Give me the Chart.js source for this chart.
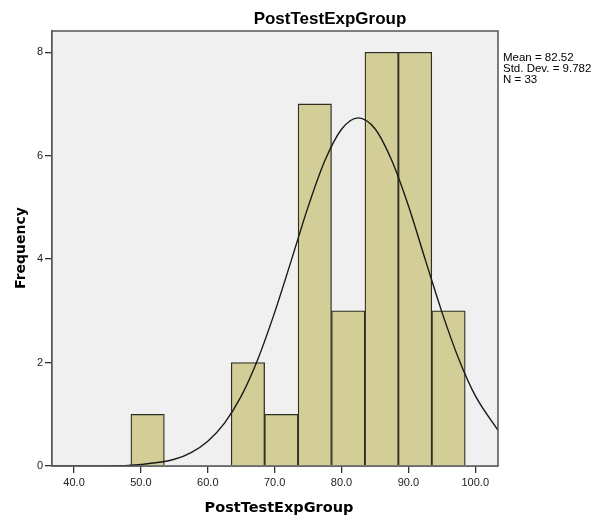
<!DOCTYPE html>
<html>
<head>
<meta charset="utf-8">
<script src="https://cdn.jsdelivr.net/npm/chart.js@4/dist/chart.umd.min.js"></script>
<style>
  html, body { margin: 0; padding: 0; background: #ffffff; }
  canvas { display: block; }
</style>
</head>
<body>
<canvas id="histChart" width="596" height="519"></canvas>
<script>
//============================== DATA ===========================
// bin centres (bin width 5) and counts
const binCenters = [51, 66, 71, 76, 81, 86, 91, 96];
const binCounts = [1, 2, 1, 7, 3, 8, 8, 3];

// normal curve, heights
const curveX = [36.7, 40, 45, 50, 55, 57.5, 60, 62.5, 65, 67.5, 70, 72.5, 75, 77.5, 80, 82.5, 85, 87.5, 90, 92.5, 95, 97.5, 100, 103.4];
const curveY = [0.00, 0.00, 0.00, 0.03, 0.13, 0.26, 0.48, 0.83, 1.35, 2.07, 2.97, 3.98, 5.01, 5.90, 6.51, 6.73, 6.52, 5.91, 5.03, 4.00, 2.98, 2.08, 1.36, 0.69];

const xTicks = [40, 50, 60, 70, 80, 90, 100];
const yTicks = [0, 2, 4, 6, 8];

const chartTitle = "PostTestExpGroup";
const xTitle = "PostTestExpGroup";
const yTitle = "Frequency";
const statLines = ["Mean = 82.52", "Std. Dev. = 9.782", "N = 33"];

//============================== CHART ===========================
const barPoints = binCenters.map((c, i) => ({ x: c, y: binCounts[i] }));
const curvePoints = curveX.map((v, i) => ({ x: v, y: curveY[i] }));

const spssLook = {
    id: "spssLook",
    beforeDatasetsDraw(chart) {
        const a = chart.chartArea;
        const ctx = chart.ctx;
        ctx.save();
        ctx.fillStyle = "#f0f0f0";
        ctx.fillRect(a.left, a.top, a.right - a.left, a.bottom - a.top);
        ctx.restore();
    },
    afterDraw(chart) {
        const a = chart.chartArea;
        const ctx = chart.ctx;
        ctx.save();
        ctx.strokeStyle = "#555555";
        ctx.lineWidth = 1.5;
        ctx.strokeRect(a.left, a.top, a.right - a.left, a.bottom - a.top);

        ctx.fillStyle = "#000000";
        ctx.textAlign = "center";
        ctx.textBaseline = "alphabetic";
        ctx.font = "bold 17px 'Liberation Sans', Arial, sans-serif";
        ctx.fillText(chartTitle, 330, 24);

        ctx.font = "bold 14.5px 'DejaVu Sans', sans-serif";
        ctx.fillText(xTitle, 279, 512);

        ctx.save();
        ctx.translate(25, 248);
        ctx.rotate(-Math.PI / 2);
        ctx.font = "bold 14px 'DejaVu Sans', sans-serif";
        ctx.fillText(yTitle, 0, 0);
        ctx.restore();

        ctx.textAlign = "left";
        ctx.font = "11.5px 'Liberation Sans', Arial, sans-serif";
        statLines.forEach((s, i) => ctx.fillText(s, 503, 61 + i * 10.8));
        ctx.restore();
    }
};

const config = {
    type: "bar",
    data: {
        datasets: [
        {
            type: "line",
            label: "Normal",
            data: curvePoints,
            borderColor: "#1a1a1a",
            borderWidth: 1.4,
            pointRadius: 0,
            fill: false,
            cubicInterpolationMode: "monotone",
            order: 0,
        },
        {
            type: "bar",
            label: "Frequency",
            data: barPoints,
            backgroundColor: "#d3ce97",
            borderColor: "#2e2e24",
            borderWidth: 1.3,
            barPercentage: 1.0,
            categoryPercentage: 1.0,
            order: 1,
        },
    ],
    },
    options: {
        responsive: false,
        maintainAspectRatio: false,
        animation: false,
        devicePixelRatio: 1,
        layout: { padding: { left: 0, top: 31, right: 98, bottom: 0 } },
        plugins: {
            legend: { display: false },
            title: { display: false },
            tooltip: { enabled: false },
        },
        scales: {
            x: {
                type: "linear",
                min: 36.7,
                max: 103.4,
                offset: false,
                afterFit(scale) { scale.height = 53; },
                afterBuildTicks(scale) { scale.ticks = xTicks.map(v => ({ value: v })); },
                ticks: {
                    includeBounds: false,
                    padding: 3,
                    color: "#222222",
                    font: { family: "'Liberation Sans', Arial, sans-serif", size: 11 },
                    callback: v => Number(v).toFixed(1),
                    maxRotation: 0,
                },
                grid: { offset: false, drawOnChartArea: false, drawTicks: true, tickLength: 7, color: "#333333", lineWidth: 1.3 },
                border: { display: true, color: "#555555", width: 1.5 },
            },
            y: {
                type: "linear",
                min: 0,
                max: 8.41,
                afterFit(scale) { scale.width = 52; },
                afterBuildTicks(scale) { scale.ticks = yTicks.map(v => ({ value: v })); },
                ticks: {
                    includeBounds: false,
                    padding: 2,
                    color: "#222222",
                    font: { family: "'Liberation Sans', Arial, sans-serif", size: 11 },
                },
                grid: { drawOnChartArea: false, drawTicks: true, tickLength: 7, color: "#333333", lineWidth: 1.3 },
                border: { display: true, color: "#555555", width: 1.5 },
            },
        },
    },
    plugins: [spssLook],
};

const histChart = new Chart(document.getElementById("histChart").getContext("2d"), config);
</script>
</body>
</html>
